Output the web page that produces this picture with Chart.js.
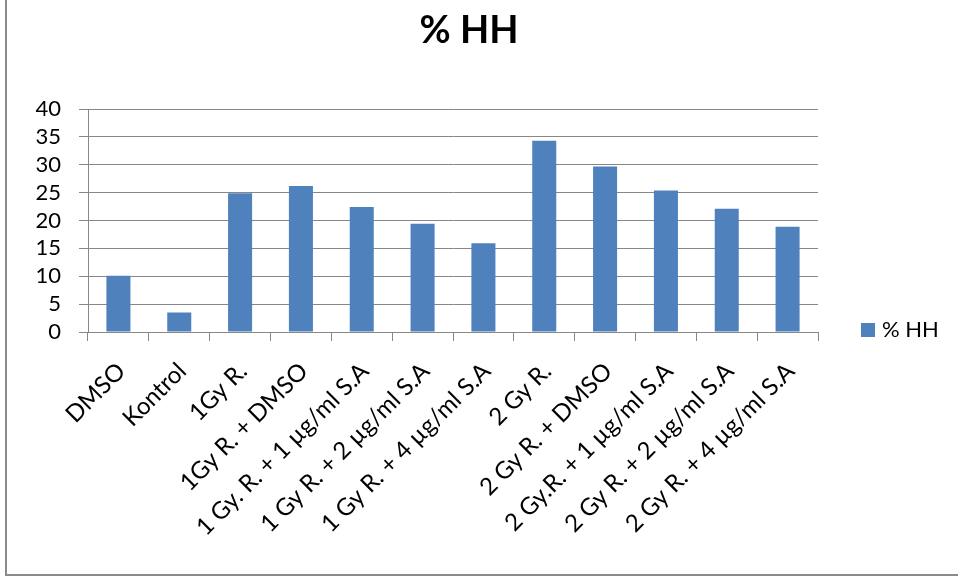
<!DOCTYPE html>
<html>
<head>
<meta charset="utf-8">
<script src="https://cdn.jsdelivr.net/npm/chart.js@4.4.1/dist/chart.umd.min.js"></script>
<style>
  html, body { margin: 0; padding: 0; background: #ffffff; }
  #wrap { position: relative; width: 958px; height: 578px; }
</style>
</head>
<body>
<div id="wrap"><canvas id="chart" width="958" height="578"></canvas></div>
<script>
// Treatment groups along the x axis
const categories = [
  'DMSO',
  'Kontrol',
  '1Gy R.',
  '1Gy R. + DMSO',
  '1 Gy. R. + 1 µg/ml S.A',
  '1 Gy R. + 2 µg/ml S.A',
  '1 Gy R. + 4 µg/ml S.A',
  '2 Gy R.',
  '2 Gy R. + DMSO',
  '2 Gy.R. + 1 µg/ml S.A',
  '2 Gy R. + 2 µg/ml S.A',
  '2 Gy R. + 4 µg/ml S.A'
];

// Percentage of HH per group
const seriesName = '% HH';
const hhValues = [10.1, 3.5, 24.9, 26.2, 22.4, 19.4, 15.9, 34.3, 29.7, 25.4, 22.1, 18.9];

// Value axis ticks
const yTicks = [0, 5, 10, 15, 20, 25, 30, 35, 40];

const FONT = 'Lato, "Liberation Sans", sans-serif';
const BAR_COLOR = '#4F81BD';
const GRID_COLOR = '#878787';

// Thin grey frame on the left and bottom edges of the page
const framePlugin = {
  id: 'frame',
  afterDraw(chart) {
    const ctx = chart.ctx;
    ctx.save();
    ctx.strokeStyle = '#8a8a8a';
    ctx.lineWidth = 2;
    ctx.beginPath();
    ctx.moveTo(6, 0);
    ctx.lineTo(6, 576);
    ctx.moveTo(5, 575);
    ctx.lineTo(chart.width, 575);
    ctx.stroke();
    ctx.restore();
  }
};

// Single-entry legend to the right of the plot
const sideLegend = {
  id: 'sideLegend',
  afterDraw(chart) {
    const ds = chart.data.datasets[0];
    const area = chart.chartArea;
    const ctx = chart.ctx;
    const x = area.right + 43;
    const cy = 330;
    ctx.save();
    ctx.fillStyle = ds.backgroundColor;
    ctx.fillRect(x, cy - 7, 14, 14);
    ctx.fillStyle = '#000000';
    ctx.font = '22px ' + FONT;
    ctx.textBaseline = 'middle';
    ctx.textAlign = 'left';
    ctx.fillText(ds.label, x + 21, cy);
    ctx.restore();
  }
};

new Chart(document.getElementById('chart'), {
  type: 'bar',
  data: {
    labels: categories,
    datasets: [{
      label: seriesName,
      data: hhValues,
      backgroundColor: BAR_COLOR,
      borderWidth: 0,
      categoryPercentage: 1,
      barPercentage: 0.395
    }]
  },
  options: {
    responsive: false,
    animation: false,
    devicePixelRatio: 1,
    layout: { padding: { left: 0, right: 20, top: 0, bottom: 0 } },
    plugins: {
      legend: { display: false },
      tooltip: { enabled: false },
      title: {
        display: true,
        text: seriesName,
        color: '#000000',
        font: { family: FONT, size: 38, weight: 'bold', lineHeight: 1.2 },
        padding: { top: 8, bottom: 55.4 }
      }
    },
    scales: {
      x: {
        grid: {
          offset: true,
          drawOnChartArea: false,
          drawTicks: true,
          tickLength: 9,
          color: GRID_COLOR
        },
        border: { color: GRID_COLOR, width: 1 },
        ticks: {
          autoSkip: false,
          minRotation: 45,
          maxRotation: 45,
          padding: 16,
          labelOffset: 3,
          color: '#000000',
          font: { family: FONT, size: 24 }
        },
        afterFit(scale) { scale.height = 246; }
      },
      y: {
        min: yTicks[0],
        max: yTicks[yTicks.length - 1],
        afterBuildTicks(scale) { scale.ticks = yTicks.map(v => ({ value: v })); },
        grid: { color: GRID_COLOR, tickLength: 9, lineWidth: 1 },
        border: { color: GRID_COLOR, width: 1 },
        ticks: {
          autoSkip: false,
          padding: 18,
          color: '#000000',
          font: { family: FONT, size: 22 }
        },
        afterFit(scale) { scale.width = 88; }
      },
      legendSpace: {
        type: 'linear',
        position: 'right',
        display: true,
        grid: { display: false, drawTicks: false },
        border: { display: false },
        ticks: { display: false },
        afterFit(scale) { scale.width = 120; }
      }
    }
  },
  plugins: [framePlugin, sideLegend]
});
</script>
</body>
</html>
